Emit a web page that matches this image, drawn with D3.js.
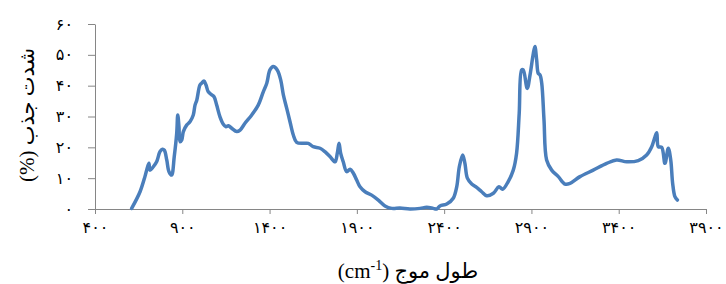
<!DOCTYPE html>
<html>
<head>
<meta charset="utf-8">
<script src="https://cdn.jsdelivr.net/npm/d3@7"></script>
<style>
  body { margin: 0; background: #fff; }
  svg { display: block; }
</style>
</head>
<body>
<div id="chart"></div>
<script>
// wavenumber (cm-1) and absorbance (%)
var wavenumber = [610, 658, 686, 696, 709, 715, 734, 753, 772, 786, 797, 811, 824, 839, 854, 868, 874, 881, 887, 897,
  906, 925, 944, 963, 973, 983, 1001, 1011, 1024, 1036, 1049, 1069, 1082, 1097, 1116, 1135, 1150, 1164, 1183, 1212,
  1231, 1259, 1298, 1335, 1364, 1384, 1402, 1421, 1444, 1464, 1479, 1498, 1517, 1536, 1555, 1593, 1622, 1650, 1689, 1717,
  1746, 1775, 1788, 1798, 1807, 1822, 1842, 1861, 1880, 1899, 1918, 1947, 1985, 2023, 2061, 2100, 2147, 2204, 2262, 2300,
  2338, 2357, 2376, 2415, 2452, 2472, 2487, 2506, 2519, 2533, 2558, 2586, 2615, 2644, 2682, 2714, 2735, 2767, 2796, 2815,
  2830, 2844, 2853, 2876, 2892, 2911, 2920, 2930, 2939, 2949, 2959, 2972, 2987, 3016, 3054, 3092, 3121, 3178, 3254, 3331,
  3388, 3446, 3512, 3560, 3589, 3608, 3618, 3627, 3646, 3665, 3684, 3698, 3709, 3722, 3736];
var absorbance = [0.2, 5.6, 10.5, 12.6, 14.8, 12.6, 13.7, 15.3, 18.6, 19.4, 19.1, 15.9, 12.1, 11.0, 17.0, 24.5, 30.5, 26.7, 21.8, 22.4,
  25.1, 27.2, 28.3, 30.5, 33.7, 35.3, 40.2, 40.8, 41.5, 40.2, 38.0, 37.0, 36.4, 33.7, 29.9, 27.5, 26.7, 27.0, 26.2, 25.1,
  25.6, 27.8, 30.5, 33.7, 38.0, 40.8, 45.1, 46.2, 45.1, 41.8, 37.0, 32.7, 28.3, 24.0, 21.6, 21.3, 21.3, 20.2, 19.7, 18.6,
  17.0, 15.3, 18.1, 21.3, 18.1, 15.3, 12.1, 12.9, 11.6, 9.4, 7.2, 5.6, 4.5, 2.9, 1.0, 0.2, 0.3, 0.0, 0.2, 0.55,
  0.2, 0.0, 1.0, 1.6, 3.5, 7.2, 13.7, 17.5, 14.8, 10.0, 8.1, 7.0, 5.6, 4.3, 5.1, 7.2, 6.4, 8.9, 12.6, 18.1,
  31.0, 45.1, 45.1, 39.1, 43.5, 50.5, 52.7, 48.3, 44.0, 43.5, 40.8, 28.9, 15.9, 12.6, 10.5, 8.1, 8.3, 10.5, 12.6, 14.8,
  15.9, 15.3, 15.7, 17.5, 20.2, 23.4, 24.7, 20.2, 20.0, 14.8, 19.7, 15.9, 8.3, 4.0, 2.9];

var xTicks = [400, 900, 1400, 1900, 2400, 2900, 3400, 3900];
var xTickLabels = ["۴۰۰", "۹۰۰", "۱۴۰۰", "۱۹۰۰", "۲۴۰۰", "۲۹۰۰", "۳۴۰۰", "۳۹۰۰"];
var yTicks = [0, 10, 20, 30, 40, 50, 60];
var yTickLabels = ["۰", "۱۰", "۲۰", "۳۰", "۴۰", "۵۰", "۶۰"];

var width = 726, height = 284;
var fontStack = "'Times New Roman', 'Liberation Serif', 'DejaVu Sans', serif";

var svg = d3.select("#chart").append("svg")
    .attr("width", width)
    .attr("height", height);

var x = d3.scaleLinear().domain([400, 3900]).range([95, 706]);
var y = d3.scaleLinear().domain([0, 60]).range([209, 24]);

// x axis
svg.append("g")
    .attr("transform", "translate(0," + y(0) + ")")
    .call(d3.axisBottom(x)
      .tickValues(xTicks)
      .tickSize(5)
      .tickSizeOuter(0)
      .tickPadding(8)
      .tickFormat(function(d, i) { return xTickLabels[i]; }));

// y axis
svg.append("g")
    .attr("transform", "translate(" + x(400) + ",0)")
    .call(d3.axisLeft(y)
      .tickValues(yTicks)
      .tickSize(7)
      .tickSizeOuter(0)
      .tickPadding(15)
      .tickFormat(function(d, i) { return yTickLabels[i]; }));

svg.selectAll(".domain").attr("stroke", "#868686").attr("stroke-width", 1);
svg.selectAll(".tick line").attr("stroke", "#868686");
svg.selectAll(".tick text")
    .attr("fill", "#000")
    .style("font-family", fontStack)
    .style("font-size", "16px");

// the spectrum
var points = wavenumber.map(function(w, i) { return [w, absorbance[i]]; });
var line = d3.line()
    .x(function(d) { return x(d[0]); })
    .y(function(d) { return y(d[1]); })
    .curve(d3.curveCatmullRom.alpha(0.5));

svg.append("path")
    .datum(points)
    .attr("fill", "none")
    .attr("stroke", "#4A7EBB")
    .attr("stroke-width", 3.5)
    .attr("stroke-linejoin", "round")
    .attr("stroke-linecap", "round")
    .attr("d", line);

// axis titles
var xTitle = svg.append("text")
    .attr("x", 408)
    .attr("y", 278)
    .attr("text-anchor", "middle")
    .style("font-family", fontStack)
    .style("font-size", "21px")
    .attr("fill", "#000");
xTitle.append("tspan").text("(cm");
xTitle.append("tspan").attr("dy", -8).style("font-size", "14px").text("-1");
xTitle.append("tspan").attr("dy", 8).text(") طول موج");

svg.append("text")
    .attr("transform", "translate(34,115) rotate(-90)")
    .attr("text-anchor", "middle")
    .attr("direction", "rtl")
    .style("font-family", fontStack)
    .style("font-size", "21px")
    .attr("fill", "#000")
    .text("شدت جذب (%)");
</script>
</body>
</html>
